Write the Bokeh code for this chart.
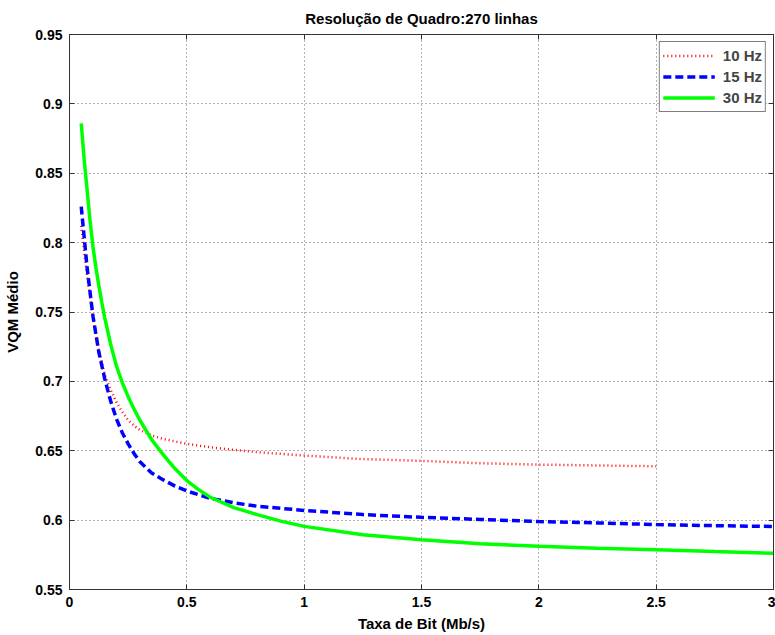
from bokeh.plotting import figure
from bokeh.models import (Range1d, FixedTicker, CustomJSTickFormatter, LinearAxis,
                          Legend, LegendItem)
from bokeh.embed import file_html
from bokeh.resources import INLINE

# ---- data ----
x_10 = [0.05, 0.075, 0.1, 0.125, 0.15, 0.175, 0.2, 0.225, 0.25, 0.275, 0.3, 0.35, 0.4, 0.5,
        0.6, 0.7, 0.8, 1.0, 1.25, 1.5, 1.75, 2.0, 2.25, 2.5]
y_10 = [0.812, 0.776, 0.746, 0.722, 0.705, 0.694, 0.685, 0.678, 0.672, 0.668, 0.665, 0.661,
        0.6585, 0.655, 0.6525, 0.6506, 0.649, 0.6465, 0.644, 0.6427, 0.641, 0.640, 0.6394,
        0.6388]

x_15 = [0.05, 0.075, 0.1, 0.125, 0.15, 0.175, 0.2, 0.225, 0.25, 0.275, 0.3, 0.35, 0.4, 0.45,
        0.5, 0.6, 0.7, 0.8, 1.0, 1.25, 1.5, 1.75, 2.0, 2.25, 2.5, 2.75, 3.0]
y_15 = [0.826, 0.782, 0.747, 0.721, 0.702, 0.686, 0.673, 0.663, 0.655, 0.648, 0.642, 0.634,
        0.629, 0.6245, 0.621, 0.6157, 0.6125, 0.610, 0.607, 0.604, 0.602, 0.6005, 0.599,
        0.598, 0.5968, 0.596, 0.5954]

x_30 = [0.05, 0.0625, 0.075, 0.0875, 0.1, 0.1125, 0.125, 0.1375, 0.15, 0.175, 0.2, 0.225,
        0.25, 0.275, 0.3, 0.35, 0.4, 0.45, 0.5, 0.55, 0.6, 0.7, 0.8, 0.9, 1.0, 1.25, 1.5,
        1.75, 2.0, 2.25, 2.5, 2.75, 3.0]
y_30 = [0.886, 0.860, 0.838, 0.816, 0.797, 0.782, 0.769, 0.757, 0.746, 0.727, 0.711, 0.699,
        0.689, 0.680, 0.672, 0.658, 0.647, 0.637, 0.6285, 0.622, 0.6165, 0.609, 0.604,
        0.5993, 0.5955, 0.5895, 0.5858, 0.583, 0.5812, 0.5798, 0.5786, 0.5773, 0.5761]

x_ticks = [0, 0.5, 1, 1.5, 2, 2.5, 3]
y_ticks = [0.55, 0.6, 0.65, 0.7, 0.75, 0.8, 0.85, 0.9, 0.95]
series_labels = ["10 Hz", "15 Hz", "30 Hz"]

FONT = "Liberation Sans"

p = figure(width=775, height=635, output_backend="svg", toolbar_location=None,
           x_range=Range1d(0, 3), y_range=Range1d(0.55, 0.95),
           min_border_left=69, min_border_right=2, min_border_top=34, min_border_bottom=46,
           title="Resolução de Quadro:270 linhas")
p.title.align = "center"
p.title.text_font = FONT
p.title.text_font_size = "15px"
p.title.text_font_style = "bold"
p.title.text_color = "#000000"
p.title.offset = 0
p.title.standoff = 15

fmt = CustomJSTickFormatter(code="return String(Math.round(tick*100)/100);")

for ax in (p.xaxis[0], p.yaxis[0]):
    ax.major_label_text_font = FONT
    ax.major_label_text_font_size = "14px"
    ax.major_label_text_font_style = "bold"
    ax.major_label_text_color = "#000000"
    ax.axis_label_text_font = FONT
    ax.axis_label_text_font_size = "15px"
    ax.axis_label_text_font_style = "bold"
    ax.axis_label_text_color = "#000000"
    ax.major_tick_in = 5
    ax.major_tick_out = 0
    ax.minor_tick_in = 0
    ax.minor_tick_out = 0
    ax.axis_line_color = "#333333"
    ax.major_tick_line_color = "#333333"
    ax.formatter = fmt

p.xaxis[0].ticker = FixedTicker(ticks=x_ticks)
p.yaxis[0].ticker = FixedTicker(ticks=y_ticks)
p.xaxis[0].axis_label = "Taxa de Bit (Mb/s)"
p.yaxis[0].axis_label = "VQM Médio"
p.xaxis[0].major_label_standoff = 7
p.xaxis[0].axis_label_standoff = 5
p.yaxis[0].major_label_standoff = 7
p.yaxis[0].axis_label_standoff = 11

# box axes (top / right) with inward ticks and no labels
for loc, ticks in (("above", x_ticks), ("right", y_ticks)):
    a = LinearAxis(ticker=FixedTicker(ticks=ticks), major_label_text_font_size="0px",
                   major_label_standoff=0, major_tick_in=5, major_tick_out=0,
                   minor_tick_in=0, minor_tick_out=0, axis_line_color="#333333",
                   major_tick_line_color="#333333")
    p.add_layout(a, loc)

p.xgrid.ticker = FixedTicker(ticks=x_ticks)
p.ygrid.ticker = FixedTicker(ticks=y_ticks)
for g in (p.xgrid[0], p.ygrid[0]):
    g.grid_line_color = "#666666"
    g.grid_line_dash = "1 3"
    g.grid_line_width = 1
p.outline_line_color = "#333333"
p.background_fill_color = "white"
p.border_fill_color = "white"

r10 = p.line(x_10, y_10, line_color="#ff0000", line_width=2.5, line_dash="1 3")
r15 = p.line(x_15, y_15, line_color="#0000ff", line_width=3.5, line_dash="8 4")
r30 = p.line(x_30, y_30, line_color="#00ff00", line_width=3.5)

legend = Legend(items=[LegendItem(label=series_labels[0], renderers=[r10]),
                       LegendItem(label=series_labels[1], renderers=[r15]),
                       LegendItem(label=series_labels[2], renderers=[r30])],
                location="top_right")
legend.margin = 7
legend.padding = 3
legend.spacing = 0
legend.label_height = 21
legend.glyph_height = 21
legend.glyph_width = 52
legend.label_standoff = 8
legend.label_text_font = FONT
legend.label_text_font_size = "15px"
legend.label_text_font_style = "bold"
legend.border_line_color = "#000000"
legend.border_line_width = 1
legend.background_fill_alpha = 1
p.add_layout(legend, "center")

open("out.html", "w").write(file_html(p, INLINE))
